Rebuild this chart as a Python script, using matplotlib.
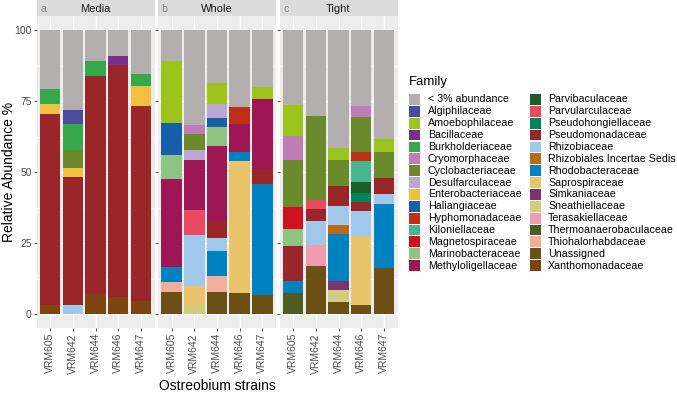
import matplotlib
matplotlib.use("Agg")
import matplotlib.pyplot as plt
from matplotlib.patches import Rectangle
import numpy as np

plt.rcParams['font.family'] = ['Liberation Sans', 'DejaVu Sans']

# ---------------- data ----------------
panels = ["Media", "Whole", "Tight"]
panel_tags = ["a", "b", "c"]
strains = ["VRM605", "VRM642", "VRM644", "VRM646", "VRM647"]

families = ["< 3% abundance", "Algiphilaceae", "Amoebophilaceae", "Bacillaceae",
            "Burkholderiaceae", "Cryomorphaceae", "Cyclobacteriaceae", "Desulfarculaceae",
            "Enterobacteriaceae", "Haliangiaceae", "Hyphomonadaceae", "Kiloniellaceae",
            "Magnetospiraceae", "Marinobacteraceae", "Methyloligellaceae", "Parvibaculaceae",
            "Parvularculaceae", "Pseudohongiellaceae", "Pseudomonadaceae", "Rhizobiaceae",
            "Rhizobiales Incertae Sedis", "Rhodobacteraceae", "Saprospiraceae", "Simkaniaceae",
            "Sneathiellaceae", "Terasakiellaceae", "Thermoanaerobaculaceae",
            "Thiohalorhabdaceae", "Unassigned", "Xanthomonadaceae"]

family_colors = ["#B3AFAE", "#4A4A9E", "#9DC41A", "#7B2E8E", "#35A84A", "#C07CB8",
                 "#6A8A2C", "#B9A6D3", "#F2C040", "#1560A8", "#BF3117", "#48B590",
                 "#D0101E", "#8EC482", "#9E1653", "#1B5E2A", "#E84A5F", "#00845A",
                 "#9B2629", "#A0C8EC", "#B86A14", "#0082C0", "#E9C46A", "#7A3570",
                 "#D2CC7E", "#F19CB0", "#4E5B21", "#F2AE98", "#6C5015", "#7D4410"]

# values per family: Media (5 strains), Whole (5), Tight (5)
below3 = [20.7, 28.3, 10.9, 9.2, 15.5, 10.9, 33.5, 18.7, 27.2, 20.1, 26.4, 30.3, 41.5, 26.8, 38.5]
algiphilaceae = [0, 4.7, 0, 0, 0, 0, 0, 0, 0, 0, 0, 0, 0, 0, 0]
amoebophilaceae = [0, 0, 0, 0, 0, 21.8, 0, 7.4, 0, 4.1, 10.8, 0, 4.3, 0, 4.6]
bacillaceae = [0, 0, 0, 3.1, 0, 0, 0, 0, 0, 0, 0, 0, 0, 0, 0]
burkholderiaceae = [5.4, 9.4, 5.3, 0, 4.3, 0, 0, 0, 0, 0, 0, 0, 0, 0, 0]
cryomorphaceae = [0, 0, 0, 0, 0, 0, 3.2, 0, 0, 0, 8.6, 0, 0, 4.0, 0]
cyclobacteriaceae = [0, 6.2, 0, 0, 0, 0, 5.7, 0, 0, 0, 16.5, 29.4, 9.1, 12.0, 9.1]
desulfarculaceae = [0, 0, 0, 0, 0, 0, 3.3, 4.9, 0, 0, 0, 0, 0, 0, 0]
enterobacteriaceae = [3.4, 3.2, 0, 0, 6.8, 0, 0, 0, 0, 0, 0, 0, 0, 0, 0]
haliangiaceae = [0, 0, 0, 0, 0, 11.2, 0, 3.3, 0, 0, 0, 0, 0, 0, 0]
hyphomonadaceae = [0, 0, 0, 0, 0, 0, 0, 0, 5.9, 0, 0, 0, 0, 3.4, 0]
kiloniellaceae = [0, 0, 0, 0, 0, 0, 0, 0, 0, 0, 0, 0, 0, 7.3, 0]
magnetospiraceae = [0, 0, 0, 0, 0, 0, 0, 0, 0, 0, 7.9, 0, 0, 0, 0]
marinobacteraceae = [0, 0, 0, 0, 0, 8.6, 0, 6.4, 0, 0, 5.7, 0, 0, 0, 0]
methyloligellaceae = [0, 0, 0, 0, 0, 31.1, 17.7, 26.7, 9.9, 24.9, 0, 0, 0, 0, 0]
parvibaculaceae = [0, 0, 0, 0, 0, 0, 0, 0, 0, 0, 0, 0, 0, 3.8, 0]
parvularculaceae = [0, 0, 0, 0, 0, 0, 8.8, 0, 0, 0, 0, 3.4, 0, 0, 0]
pseudohongiellaceae = [0, 0, 0, 0, 0, 0, 0, 0, 0, 0, 0, 0, 0, 3.1, 0]
pseudomonadaceae = [67.5, 44.9, 76.8, 81.8, 68.9, 0, 0, 5.7, 0, 5.0, 12.4, 4.2, 7.0, 3.2, 5.5]
rhizobiaceae = [0, 3.3, 0, 0, 0, 0, 17.8, 4.7, 0, 0, 0, 8.4, 6.9, 8.8, 3.6]
rhizobiales_is = [0, 0, 0, 0, 0, 0, 0, 0, 0, 0, 0, 0, 3.0, 0, 0]
rhodobacteraceae = [0, 0, 0, 0, 0, 5.2, 0, 8.7, 3.1, 39.3, 4.2, 0, 16.7, 0, 22.4]
saprospiraceae = [0, 0, 0, 0, 0, 0, 6.9, 0, 46.5, 0, 0, 0, 0, 24.4, 0]
simkaniaceae = [0, 0, 0, 0, 0, 0, 0, 0, 0, 0, 0, 0, 3.2, 0, 0]
sneathiellaceae = [0, 0, 0, 0, 0, 0, 3.1, 0, 0, 0, 0, 0, 4.0, 0, 0]
terasakiellaceae = [0, 0, 0, 0, 0, 0, 0, 0, 0, 0, 0, 7.4, 0, 0, 0]
thermoanaerobaculaceae = [0, 0, 0, 0, 0, 0, 0, 0, 0, 0, 7.5, 0, 0, 0, 0]
thiohalorhabdaceae = [0, 0, 0, 0, 0, 3.3, 0, 5.9, 0, 0, 0, 0, 0, 0, 0]
unassigned = [0, 0, 0, 0, 0, 7.9, 0, 7.6, 7.4, 6.6, 0, 16.9, 4.3, 3.2, 16.3]
xanthomonadaceae = [3.0, 0, 7.0, 5.9, 4.5, 0, 0, 0, 0, 0, 0, 0, 0, 0, 0]

abundance = [below3, algiphilaceae, amoebophilaceae, bacillaceae, burkholderiaceae,
             cryomorphaceae, cyclobacteriaceae, desulfarculaceae, enterobacteriaceae,
             haliangiaceae, hyphomonadaceae, kiloniellaceae, magnetospiraceae,
             marinobacteraceae, methyloligellaceae, parvibaculaceae, parvularculaceae,
             pseudohongiellaceae, pseudomonadaceae, rhizobiaceae, rhizobiales_is,
             rhodobacteraceae, saprospiraceae, simkaniaceae, sneathiellaceae,
             terasakiellaceae, thermoanaerobaculaceae, thiohalorhabdaceae, unassigned,
             xanthomonadaceae]

y_ticks = [0, 25, 50, 75, 100]

# ---------------- layout ----------------
W, H = 677, 393
fig = plt.figure(figsize=(W / 100, H / 100), dpi=100)


def px_axes(left, top, width, height, **kw):
    return fig.add_axes([left / W, 1 - (top + height) / H, width / W, height / H], **kw)


panel_left = [36.5, 158.0, 279.5]
panel_w = 118.0
panel_top = 15.8
panel_h = 312.4
strip_h = 15.8

PANEL_BG = "#EDEDED"
STRIP_BG = "#DCDCDC"
TICK_COL = "#4D4D4D"

x = np.arange(len(strains))
for p, name in enumerate(panels):
    ax = px_axes(panel_left[p], panel_top, panel_w, panel_h)
    ax.set_facecolor(PANEL_BG)
    ax.set_xlim(-0.6, len(strains) - 0.4)
    ax.set_ylim(-5, 105)
    # gridlines
    for v in [12.5, 37.5, 62.5, 87.5]:
        ax.axhline(v, color="white", lw=0.5, zorder=0.5)
    for v in y_ticks:
        ax.axhline(v, color="white", lw=1.0, zorder=0.5)
    for xi in x:
        ax.axvline(xi, color="white", lw=1.0, zorder=0.5)
    bottom = np.zeros(len(strains))
    for fam_i in range(len(families) - 1, -1, -1):
        vals = np.array(abundance[fam_i][p * 5:(p + 1) * 5], dtype=float)
        ax.bar(x, vals, width=0.9, bottom=bottom, color=family_colors[fam_i],
               edgecolor="none", zorder=2)
        bottom += vals
    for s in ax.spines.values():
        s.set_visible(False)
    ax.set_xticks(x)
    ax.set_xticklabels(strains, rotation=90, fontsize=7.5, color=TICK_COL, va="top")
    ax.set_yticks(y_ticks)
    if p == 0:
        ax.set_yticklabels([str(v) for v in y_ticks], fontsize=7.5, color=TICK_COL)
    else:
        ax.set_yticklabels([])
        ax.tick_params(axis="y", length=0)
    ax.tick_params(axis="both", length=2, width=0.6, color="#333333", pad=1.5)
    ax.minorticks_off()

    # strip
    sax = px_axes(panel_left[p], 0, panel_w, strip_h)
    sax.set_facecolor(STRIP_BG)
    sax.set_xticks([])
    sax.set_yticks([])
    for s in sax.spines.values():
        s.set_visible(False)
    sax.text(0.5, 0.45, name, ha="center", va="center", fontsize=8, color="#1A1A1A",
             transform=sax.transAxes)
    sax.text(0.03, 0.45, panel_tags[p], ha="left", va="center", fontsize=7.5,
             color="#7F7F7F", transform=sax.transAxes)

# overlay for titles and legend, in pixel coordinates
ov = fig.add_axes([0, 0, 1, 1])
ov.set_xlim(0, W)
ov.set_ylim(H, 0)
ov.axis("off")

ov.text(9, 172, "Relative Abundance %", rotation=90, ha="center", va="center",
        fontsize=10, color="black")
ov.text(217, 386, "Ostreobium strains", ha="center", va="center", fontsize=10,
        color="black")

# legend
ov.text(409, 82, "Family", ha="left", va="center", fontsize=9.5, color="black")
row0 = 99.5
row_step = 11.86
col_key_x = [409.3, 530.0]
col_txt_x = [428.0, 548.0]
n_rows = 15
for i, fam in enumerate(families):
    col = i // n_rows
    row = i % n_rows
    cy = row0 + row * row_step
    ov.add_patch(Rectangle((col_key_x[col], cy - 5.4), 10.8, 10.8,
                           facecolor=family_colors[i], edgecolor="none"))
    ov.text(col_txt_x[col], cy, fam, ha="left", va="center", fontsize=7.7, color="black")

fig.savefig("out.png", dpi=100)
